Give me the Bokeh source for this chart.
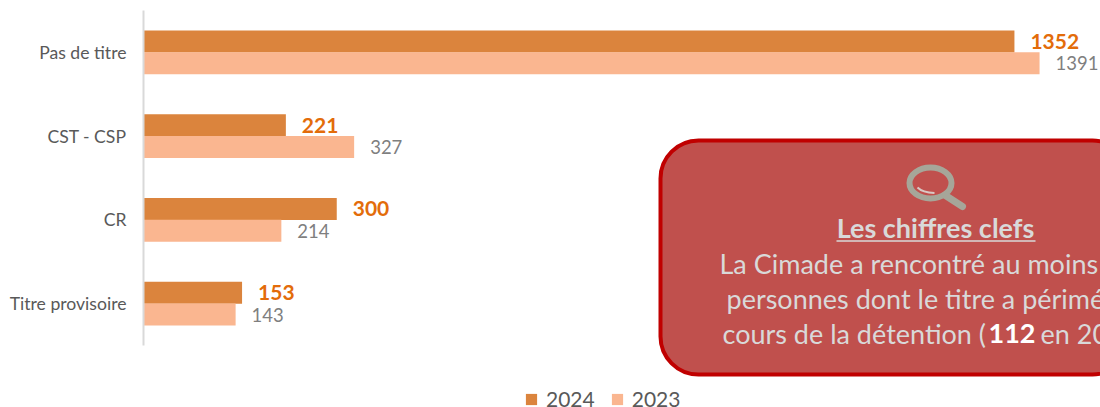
from bokeh.plotting import figure
from bokeh.embed import file_html
from bokeh.resources import INLINE
from bokeh.models import ColumnDataSource, Range1d, Legend, LegendItem, BoxAnnotation, Label, FixedTicker
from bokeh.core.properties import value

categories = ["Titre provisoire", "CR", "CST - CSP", "Pas de titre"]
values_2024 = [153, 300, 221, 1352]
values_2023 = [143, 214, 327, 1391]
FONT = "Lato"

OFF = 0.1313
H = 0.2627
pos = list(range(len(categories)))
src = ColumnDataSource(dict(y24=[i + OFF for i in pos], y23=[i - OFF for i in pos],
                            v24=values_2024, v23=values_2023,
                            t24=[str(v) for v in values_2024], t23=[str(v) for v in values_2023]))

p = figure(width=1100, height=407, output_backend="svg", toolbar_location=None,
           y_range=Range1d(-1.2403, 3.5), x_range=Range1d(0, 1485.6),
           min_border_left=143, min_border_right=0, min_border_top=10, min_border_bottom=0)
p.outline_line_color = None
p.grid.visible = False
p.xaxis.visible = False
ax = p.yaxis[0]
ax.ticker = FixedTicker(ticks=pos)
ax.bounds = (-0.5, 3.5)
ax.major_label_overrides = {i: c for i, c in zip(pos, categories)}
ax.axis_line_color = "#D9D9D9"
ax.axis_line_width = 2
ax.major_tick_line_color = None
ax.major_tick_out = 0
ax.major_tick_in = 0
ax.minor_tick_line_color = None
ax.major_label_standoff = 17
ax.major_label_text_font = FONT
ax.major_label_text_font_size = "17.6px"
ax.major_label_text_color = "#595959"

COL24, COL23 = "#DB843D", "#FAB690"
r24 = p.hbar(y="y24", right="v24", left=0, height=H, source=src, fill_color=COL24, line_color=None)
r23 = p.hbar(y="y23", right="v23", left=0, height=H, source=src, fill_color=COL23, line_color=None)
p.text(x="v24", y="y24", text="t24", source=src, x_offset=16,
       text_font=value(FONT), text_font_style="bold", text_font_size="21px", text_color="#E36C0A",
       text_baseline="middle", text_align="left")
p.text(x="v23", y="y23", text="t23", source=src, x_offset=16,
       text_font=value(FONT), text_font_size="18.5px", text_color="#7F7F7F",
       text_baseline="middle", text_align="left")

legend = Legend(items=[LegendItem(label="2024", renderers=[r24]), LegendItem(label="2023", renderers=[r23])],
                orientation="horizontal", location=(381, -4), glyph_width=14, glyph_height=14,
                label_text_font=FONT, label_text_font_size="21px", label_text_color="#595959",
                background_fill_alpha=0, border_line_color=None, spacing=15, label_standoff=8,
                margin=0, padding=0)
p.add_layout(legend, "center")

# page-pixel helper ranges for the callout
p.extra_x_ranges["px"] = Range1d(143, 1100)
p.extra_y_ranges["px"] = Range1d(407, 10)
PX = dict(x_range_name="px", y_range_name="px")

p.add_layout(BoxAnnotation(left=660, right=1130, top=140, bottom=374, fill_color="#C0504D", fill_alpha=1,
                           line_color="#C00000", line_alpha=1, line_width=4, border_radius=38, **PX))

GREY = "#A6A699"
p.ellipse(x=[930], y=[182.5], width=[42], height=[31], width_units="screen", height_units="screen",
          fill_color=None, line_color=GREY, line_width=6, level="overlay", **PX)
p.line(x=[945, 962], y=[195, 206], line_color=GREY, line_width=7, line_cap="round", level="overlay", **PX)
p.quadratic(x0=[917], y0=[187], x1=[934], y1=[192.5], cx=[922], cy=[192], line_color="#D9C9C5", line_width=2,
            level="overlay", **PX)

TXT = "#D9D9D9"
SIZE = "27px"
def lab(x, y, text, **kw):
    opts = dict(text_font=FONT, text_font_size=SIZE, text_color=TXT, text_baseline="alphabetic", level="overlay")
    opts.update(kw)
    p.add_layout(Label(x=x, y=y, text=text, **PX, **opts))

lab(935, 227, "Les chiffres clefs", text_font_style="bold", text_align="center")
p.line(x=[836, 1035], y=[240.5, 240.5], line_color=TXT, line_width=1.5, level="overlay", **PX)
lab(719, 263, "La Cimade a rencontré au moins")
lab(726, 298, "personnes dont le titre a périmé")
lab(722, 333, "cours de la détention (")
lab(988, 333, "112", text_font_style="bold", text_color="#FFFFFF")
lab(1040, 333, "en 20")

open("out.html", "w").write(file_html(p, INLINE))
